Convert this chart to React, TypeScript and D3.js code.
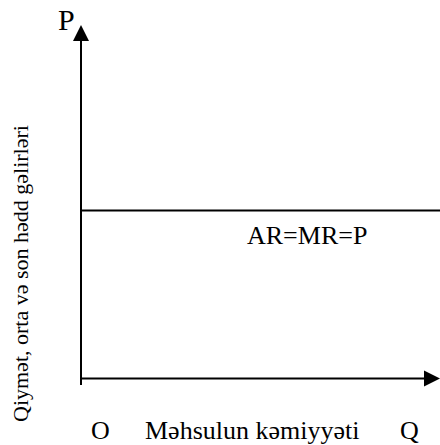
import React from "react";
import * as d3 from "d3";

// Schematic data: perfectly competitive firm — AR = MR = P is horizontal
const quantities = [0, 1];
const arMrPrice = [0.475, 0.475];
const axisLabels = ["P", "Q", "O"];
const curveLabel = "AR=MR=P";
const xTitle = "Məhsulun kəmiyyəti";
const yTitle = "Qiymət, orta və son hədd gəlirləri";

const W = 440;
const H = 445;
const FONT = '"Liberation Serif", "Times New Roman", Times, serif';

export default function App() {
  const x = d3.scaleLinear().domain([0, 1]).range([81, 440]);
  const y = d3.scaleLinear().domain([0, 1]).range([378.5, 25]);

  const line = d3
    .line<number>()
    .x((_, i) => x(quantities[i]))
    .y((d) => y(d));

  const x0 = x(0);
  const y0 = y(0);
  const yTop = y(1);
  const xEnd = x(1);
  const ts: React.CSSProperties = { fontFamily: FONT };

  return (
    <svg
      width={W}
      height={H}
      style={{ position: "absolute", left: 0, top: 0, background: "#fff" }}
    >
      {/* Y axis */}
      <line x1={x0} x2={x0} y1={385} y2={yTop + 14} stroke="#000" strokeWidth={2} />
      <path
        d={`M${x0},${yTop} L${x0 - 8},${yTop + 16} L${x0 + 8},${yTop + 16} Z`}
        fill="#000"
      />
      {/* X axis */}
      <line x1={x0 - 1} x2={xEnd - 14} y1={y0} y2={y0} stroke="#000" strokeWidth={2} />
      <path
        d={`M${xEnd},${y0} L${xEnd - 16},${y0 - 8} L${xEnd - 16},${y0 + 8} Z`}
        fill="#000"
      />
      {/* AR = MR = P line */}
      <path d={line(arMrPrice) || ""} stroke="#000" strokeWidth={2} fill="none" />

      <text x={58} y={30} style={ts} fontSize={30} fill="#000">
        {axisLabels[0]}
      </text>
      <text x={247} y={244} style={ts} fontSize={26} fill="#000">
        {curveLabel}
      </text>
      <text x={91} y={439} style={ts} fontSize={26} fill="#000">
        {axisLabels[2]}
      </text>
      <text x={145} y={439} style={ts} fontSize={26} fill="#000">
        {xTitle}
      </text>
      <text x={400} y={439} style={ts} fontSize={26} fill="#000">
        {axisLabels[1]}
      </text>
      <text
        transform={`translate(28,422) rotate(-90)`}
        style={ts}
        fontSize={22}
        fill="#000"
      >
        {yTitle}
      </text>
    </svg>
  );
}
